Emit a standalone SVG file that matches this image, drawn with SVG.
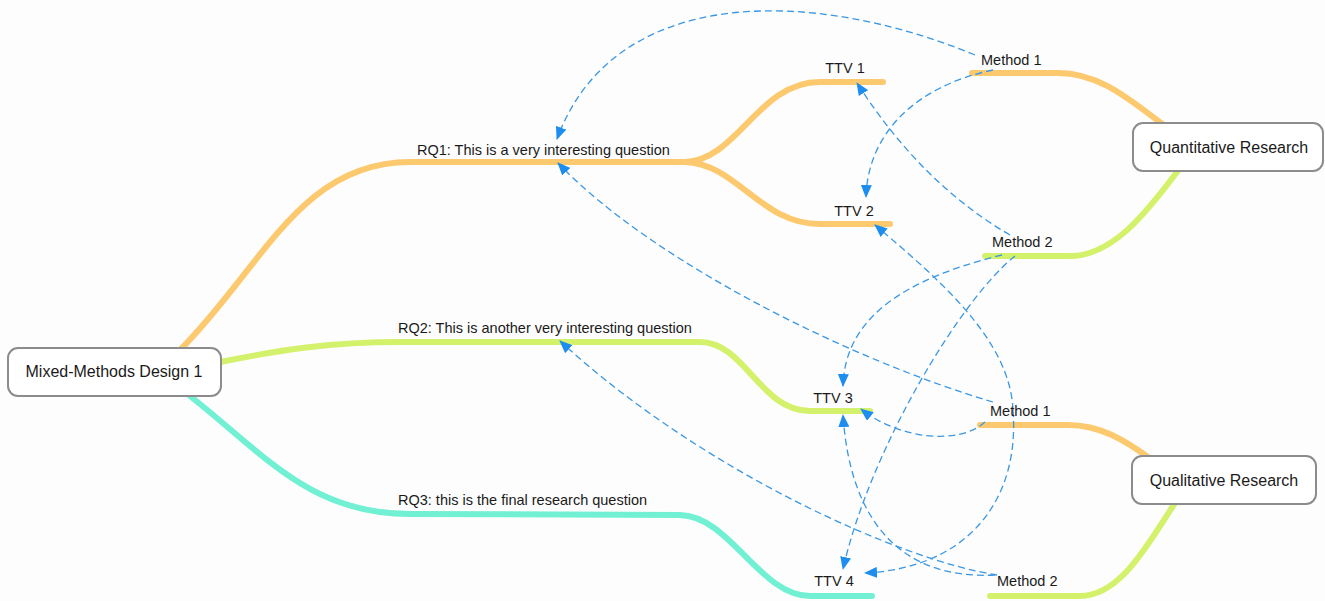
<svg xmlns="http://www.w3.org/2000/svg" width="1325" height="601" viewBox="0 0 1325 601">
  <style>
    .branch { fill: none; stroke-width: 6; stroke-linecap: round; }
    .orange { stroke: #fcc96e; }
    .lime { stroke: #d4f16c; }
    .teal { stroke: #72f0d3; }
    .rel { fill: none; stroke: #3a97e4; stroke-width: 1.3; stroke-dasharray: 7 4; marker-end: url(#arrow); }
    .box { fill: #ffffff; stroke: #8c8c8c; stroke-width: 2; }
    .title { font-family: "Liberation Sans", Arial, sans-serif; font-size: 16px; fill: #1a1a1a; text-anchor: middle; }
    .label { font-family: "Liberation Sans", Arial, sans-serif; font-size: 14.5px; fill: #1a1a1a; }
    .mid { text-anchor: middle; }
  </style>
  <defs>
    <marker id="arrow" viewBox="0 0 13 11" refX="12" refY="5.5" markerWidth="13" markerHeight="11" markerUnits="userSpaceOnUse" orient="auto">
      <path d="M0,0 L13,5.5 L0,11 Z" fill="#1d8ef0"/>
    </marker>
  </defs>
  <rect width="1325" height="601" fill="#fdfdfd"/>

  <!-- mind-map branches -->
  <g id="branches">
    <path class="branch orange" d="M180,350 C262,268 300,162 410,162 L690,162"/>
    <path class="branch orange" d="M685,162 C738,160 758,82 820,82 L883,82"/>
    <path class="branch orange" d="M685,162 C738,164 760,224 820,224 L890,224"/>
    <path class="branch lime" d="M220,362 C280,350 330,342 400,342 L700,342 C745,342 760,411 810,411 L870,411"/>
    <path class="branch teal" d="M190,396 C265,455 310,514 410,514 L680,515 C730,516 760,596 810,596 L872,596"/>
    <path class="branch orange" d="M972,73 L1058,73 C1100,73 1130,100 1165,126"/>
    <path class="branch lime" d="M985,256 L1070,256 C1112,256 1145,215 1180,168"/>
    <path class="branch orange" d="M980,425 L1068,425 C1100,425 1125,440 1152,460"/>
    <path class="branch lime" d="M990,596 L1080,596 C1122,596 1150,540 1177,500"/>
  </g>

  <!-- dashed relation connectors -->
  <g id="relations">
    <path class="rel" d="M975,55 C805,-15 612,-12 557,139"/>
    <path class="rel" d="M993,70 C920,85 868,130 866,197"/>
    <path class="rel" d="M1010,235 C950,200 900,150 857,83"/>
    <path class="rel" d="M1002,255 C900,280 845,320 843,386"/>
    <path class="rel" d="M1015,256 C960,300 870,450 843,569"/>
    <path class="rel" d="M993,402 C850,360 650,260 558,163"/>
    <path class="rel" d="M985,422 C960,445 900,440 861,409"/>
    <path class="rel" d="M1013,410 C1010,340 940,280 875,225"/>
    <path class="rel" d="M1013,410 C1020,500 968,568 865,573"/>
    <path class="rel" d="M997,575 C900,560 700,470 560,341"/>
    <path class="rel" d="M995,575 C900,580 850,520 843,415"/>
  </g>

  <g id="mixed-methods-design">
    <rect class="box" x="8" y="348" width="213" height="48" rx="10"/>
    <text class="title" x="114" y="377">Mixed-Methods Design 1</text>
  </g>
  <g id="quantitative-research">
    <rect class="box" x="1133" y="123" width="190" height="48" rx="10"/>
    <text class="title" x="1229" y="153">Quantitative Research</text>
  </g>
  <g id="qualitative-research">
    <rect class="box" x="1132" y="456" width="184" height="48" rx="10"/>
    <text class="title" x="1224" y="486">Qualitative Research</text>
  </g>

  <g id="rq1"><text class="label" x="417" y="155">RQ1: This is a very interesting question</text></g>
  <g id="rq2"><text class="label" x="398" y="333">RQ2: This is another very interesting question</text></g>
  <g id="rq3"><text class="label" x="398" y="505">RQ3: this is the final research question</text></g>

  <g id="ttv1"><text class="label mid" x="845" y="73">TTV 1</text></g>
  <g id="ttv2"><text class="label mid" x="854" y="216">TTV 2</text></g>
  <g id="ttv3"><text class="label mid" x="833" y="403">TTV 3</text></g>
  <g id="ttv4"><text class="label mid" x="834" y="586">TTV 4</text></g>

  <g id="quant-method-1"><text class="label" x="981" y="65">Method 1</text></g>
  <g id="quant-method-2"><text class="label" x="992" y="247">Method 2</text></g>
  <g id="qual-method-1"><text class="label" x="990" y="416">Method 1</text></g>
  <g id="qual-method-2"><text class="label" x="997" y="586">Method 2</text></g>
</svg>
